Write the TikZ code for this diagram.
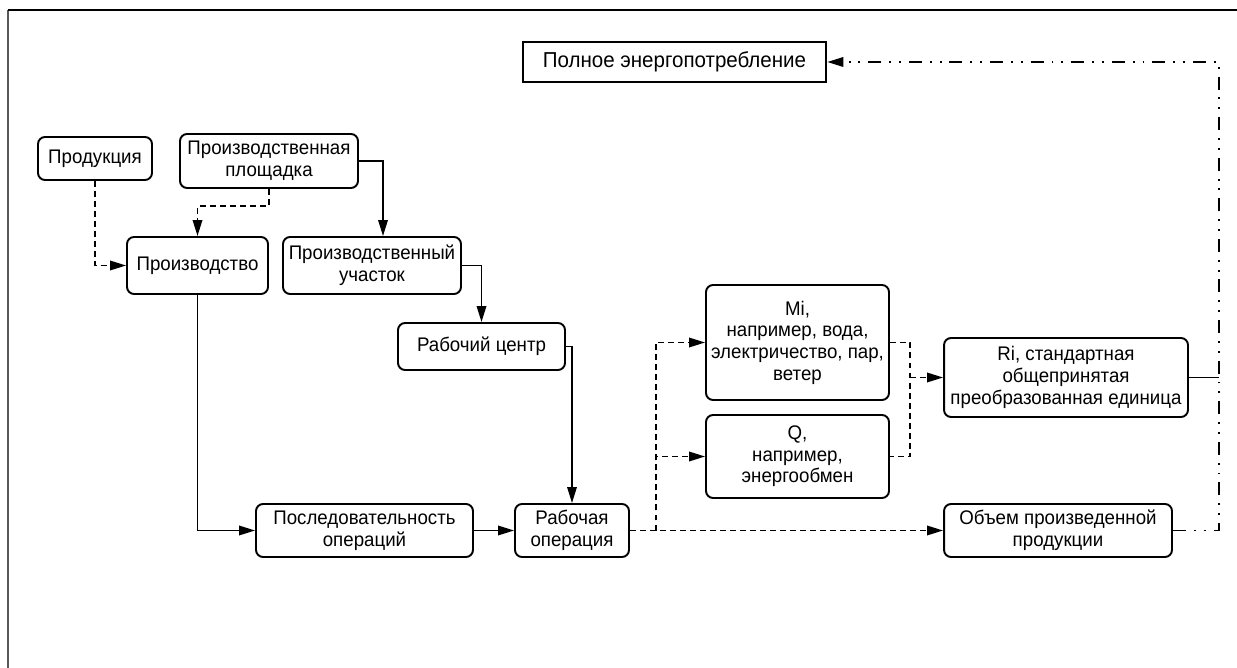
\documentclass[tikz,border=0pt]{standalone}
\usepackage{fontspec}
\setmainfont{Liberation Sans}[FakeStretch=0.95]
\usetikzlibrary{arrows.meta}

\begin{document}
\begin{tikzpicture}[x=0.02cm,y=-0.02cm,
  font=\fontsize{11.2}{12.3}\selectfont,
  blok/.style={draw=black,line width=1.1pt,rounded corners=0.14cm,align=center,inner sep=0pt},
  svyaz/.style={black,line width=1pt,-{Triangle[length=0.32cm,width=0.19cm]}},
  liniya/.style={black,line width=1pt},
  shtrih/.style={dash pattern=on 3.4pt off 2.3pt},
  shtrihpunkt/.style={dash pattern=on 7.4pt off 4.5pt on 1.1pt off 4.5pt on 1.1pt off 4.5pt}]
  \useasboundingbox (0,0) rectangle (1237,668);
  \draw[black!65,line width=1.2pt] (8,668) -- (8,10);
  \draw[black,line width=1pt] (8,10) -- (1237,10);
  \node[draw=black,line width=1.5pt,inner sep=0pt,minimum width=6.06cm,minimum height=0.8cm,font=\fontsize{12.3}{13}\selectfont] (polnoe) at (674.5,62) {Полное энергопотребление};
  \node[blok,minimum width=2.28cm,minimum height=0.86cm] (produkciya) at (95,158.5) {Продукция};
  \node[blok,minimum width=3.56cm,minimum height=1.08cm] (ploshchadka) at (269,161) {Производственная\\площадка};
  \node[blok,minimum width=2.82cm,minimum height=1.14cm] (proizvodstvo) at (197.5,265.5) {Производство};
  \node[blok,minimum width=3.56cm,minimum height=1.14cm] (uchastok) at (372,265.5) {Производственный\\участок};
  \node[blok,minimum width=3.34cm,minimum height=0.94cm] (centr) at (481.5,346.5) {Рабочий центр};
  \node[blok,minimum width=4.34cm,minimum height=1.06cm] (posled) at (364.5,530.5) {Последовательность\\операций};
  \node[blok,minimum width=2.28cm,minimum height=1.06cm] (operaciya) at (572,530.5) {Рабочая\\операция};
  \node[blok,minimum width=3.66cm,minimum height=2.3cm] (mi) at (797.5,342.5) {Mi,\\например, вода,\\электричество, пар,\\ветер};
  \node[blok,minimum width=3.66cm,minimum height=1.66cm] (q) at (797.5,456.5) {Q,\\например,\\энергообмен};
  \node[blok,minimum width=4.88cm,minimum height=1.58cm] (ri) at (1066,377.5) {Ri, стандартная\\общепринятая\\преобразованная единица};
  \node[blok,minimum width=4.56cm,minimum height=1.06cm] (obem) at (1058,530.5) {Объем произведенной\\продукции};
  \coordinate (razvilka) at (656,530.5);
  \coordinate (sbor) at (910,377.5);
  \coordinate (povorot) at (1219,530.5);
  \draw[svyaz,shtrih] (produkciya.south) |- (proizvodstvo.west);
  \draw[svyaz,shtrih] (ploshchadka.south) -- ++(0,17) -| (proizvodstvo.north);
  \draw[svyaz] (ploshchadka.east) -| ([xshift=0.22cm]uchastok.north);
  \draw[svyaz] (uchastok.east) -| (centr.north);
  \draw[svyaz] (centr.east) -| (operaciya.north);
  \draw[svyaz] (proizvodstvo.south) |- (posled.west);
  \draw[svyaz] (posled.east) -- (operaciya.west);
  \draw[svyaz,shtrih] (operaciya.east) -- (obem.west);
  \draw[svyaz,shtrih] (razvilka) |- (mi.west);
  \draw[svyaz,shtrih] (razvilka) |- (q.west);
  \draw[liniya,shtrih] (mi.east) -| (sbor) |- (q.east);
  \draw[svyaz,shtrih] (sbor) -- (ri.west);
  \draw[liniya] (ri.east) -- (ri.east -| povorot);
  \draw[svyaz,shtrihpunkt] (obem.east) -- (povorot) |- (polnoe.east);
\end{tikzpicture}
\end{document}
